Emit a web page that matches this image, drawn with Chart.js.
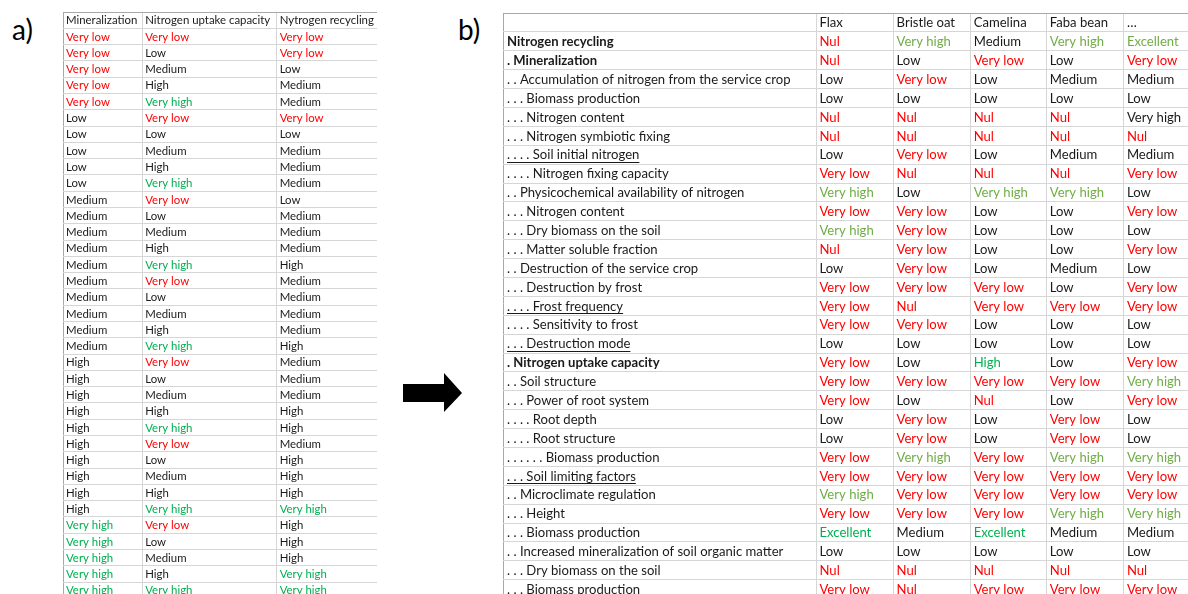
<!DOCTYPE html>
<html>
<head>
<meta charset="utf-8">
<script src="https://cdn.jsdelivr.net/npm/chart.js@4.4.1/dist/chart.umd.min.js"></script>
<style>
  body { margin: 0; background: #fff; width: 1188px; height: 594px; overflow: hidden; position: relative; font-family: Lato, sans-serif; }
  .tag { position: absolute; font-size: 28px; color: #000; line-height: 1; }
  canvas { position: absolute; }
</style>
</head>
<body>
<div class="tag" style="left:12px; top:15px;">a)</div>
<div class="tag" style="left:458px; top:15px;">b)</div>
<svg style="position:absolute; left:400px; top:370px" width="66" height="46">
  <polygon points="3,14 44,14 44,3 62,23 44,42 44,32 3,32" fill="#000"/>
</svg>
<canvas id="tableA" width="314" height="582" style="left:63px; top:12px"></canvas>
<canvas id="tableB" width="685" height="581" style="left:503px; top:13px"></canvas>
<script>
// ---- table a) data ----
const aHeaders = ['Mineralization', 'Nitrogen uptake capacity', 'Nytrogen recycling'];
const aMineralization = [
  'Very low', 'Very low', 'Very low', 'Very low', 'Very low',
  'Low', 'Low', 'Low', 'Low', 'Low',
  'Medium', 'Medium', 'Medium', 'Medium', 'Medium',
  'Medium', 'Medium', 'Medium', 'Medium', 'Medium',
  'High', 'High', 'High', 'High', 'High',
  'High', 'High', 'High', 'High', 'High',
  'Very high', 'Very high', 'Very high', 'Very high', 'Very high'
];
const aUptake = [
  'Very low', 'Low', 'Medium', 'High', 'Very high',
  'Very low', 'Low', 'Medium', 'High', 'Very high',
  'Very low', 'Low', 'Medium', 'High', 'Very high',
  'Very low', 'Low', 'Medium', 'High', 'Very high',
  'Very low', 'Low', 'Medium', 'High', 'Very high',
  'Very low', 'Low', 'Medium', 'High', 'Very high',
  'Very low', 'Low', 'Medium', 'High', 'Very high'
];
const aRecycling = [
  'Very low', 'Very low', 'Low', 'Medium', 'Medium',
  'Very low', 'Low', 'Medium', 'Medium', 'Medium',
  'Low', 'Medium', 'Medium', 'Medium', 'High',
  'Medium', 'Medium', 'Medium', 'Medium', 'High',
  'Medium', 'Medium', 'Medium', 'High', 'High',
  'Medium', 'High', 'High', 'High', 'Very high',
  'High', 'High', 'High', 'Very high', 'Very high'
];

// ---- table b) data ----
const bHeaders = ['', 'Flax', 'Bristle oat', 'Camelina', 'Faba bean', '…'];
const bCriteria = [
  'Nitrogen recycling',
  '. Mineralization',
  '. . Accumulation of nitrogen from the service crop',
  '. . . Biomass production',
  '. . . Nitrogen content',
  '. . . Nitrogen symbiotic fixing',
  '. . . . Soil initial nitrogen',
  '. . . . Nitrogen fixing capacity',
  '. . Physicochemical availability of nitrogen',
  '. . . Nitrogen content',
  '. . . Dry biomass on the soil',
  '. . . Matter soluble fraction',
  '. . Destruction of the service crop',
  '. . . Destruction by frost',
  '. . . . Frost frequency',
  '. . . . Sensitivity to frost',
  '. . . Destruction mode',
  '. Nitrogen uptake capacity',
  '. . Soil structure',
  '. . . Power of root system',
  '. . . . Root depth',
  '. . . . Root structure',
  '. . . . . . Biomass production',
  '. . . Soil limiting factors',
  '. . Microclimate regulation',
  '. . . Height',
  '. . . Biomass production',
  '. . Increased mineralization of soil organic matter',
  '. . . Dry biomass on the soil',
  '. . . Biomass production'
];
const bBoldRows = [0, 1, 17];
const bUnderlinedRows = [6, 14, 16, 23];
const bFlax = [
  'Nul', 'Nul', 'Low', 'Low', 'Nul', 'Nul', 'Low', 'Very low', 'Very high', 'Very low',
  'Very high', 'Nul', 'Low', 'Very low', 'Very low', 'Very low', 'Low', 'Very low', 'Very low', 'Very low',
  'Low', 'Low', 'Very low', 'Very low', 'Very high', 'Very low', 'Excellent', 'Low', 'Nul', 'Very low'
];
const bBristleOat = [
  'Very high', 'Low', 'Very low', 'Low', 'Nul', 'Nul', 'Very low', 'Nul', 'Low', 'Very low',
  'Very low', 'Very low', 'Very low', 'Very low', 'Nul', 'Very low', 'Low', 'Low', 'Very low', 'Low',
  'Very low', 'Very low', 'Very high', 'Very low', 'Very low', 'Very low', 'Medium', 'Low', 'Nul', 'Nul'
];
const bCamelina = [
  'Medium', 'Very low', 'Low', 'Low', 'Nul', 'Nul', 'Low', 'Nul', 'Very high', 'Low',
  'Low', 'Low', 'Low', 'Very low', 'Very low', 'Low', 'Low', 'High', 'Very low', 'Nul',
  'Low', 'Low', 'Very low', 'Very low', 'Very low', 'Very low', 'Excellent', 'Low', 'Nul', 'Very low'
];
const bFabaBean = [
  'Very high', 'Low', 'Medium', 'Low', 'Nul', 'Nul', 'Medium', 'Nul', 'Very high', 'Low',
  'Low', 'Low', 'Medium', 'Low', 'Very low', 'Low', 'Low', 'Low', 'Very low', 'Low',
  'Very low', 'Very low', 'Very high', 'Very low', 'Very low', 'Very high', 'Medium', 'Low', 'Nul', 'Very low'
];
const bOther = [
  'Excellent', 'Very low', 'Medium', 'Low', 'Very high', 'Nul', 'Medium', 'Very low', 'Low', 'Very low',
  'Low', 'Very low', 'Low', 'Very low', 'Very low', 'Low', 'Low', 'Very low', 'Very high', 'Very low',
  'Low', 'Low', 'Very high', 'Very low', 'Very low', 'Very high', 'Medium', 'Low', 'Nul', 'Very low'
];
// cells whose colour in the source differs from the usual rule: [row, column]
const bPlainCells = [[4, 4]];
const bStrongCells = [[26, 0], [26, 2]];

// ---- look ----
const INK = '#1a1a1a';
const RED = '#ff0000';
const GREEN = '#00b050';
const OLIVE = '#70ad47';
const GRID = '#d6d6d6';
const EDGE = '#a8a8a8';
const PAD = 3;

const colourA = (v) => v === 'Very low' ? RED : v === 'Very high' ? GREEN : INK;

const inList = (list, r, c) => list.some(p => p[0] === r && p[1] === c);
const colourB = (v, r, c) => {
  if (inList(bPlainCells, r, c)) return INK;
  if (inList(bStrongCells, r, c)) return GREEN;
  if (v === 'Nul' || v === 'Very low') return RED;
  if (v === 'Very high' || v === 'Excellent') return OLIVE;
  if (v === 'High') return GREEN;
  return INK;
};

const cellText = {
  id: 'cellText',
  afterDatasetsDraw(chart, args, opts) {
    const ctx = chart.ctx;
    const area = chart.chartArea;
    ctx.save();
    ctx.beginPath();
    ctx.rect(area.left, area.top, area.right - area.left, area.bottom - area.top);
    ctx.clip();
    ctx.textBaseline = 'middle';
    ctx.textAlign = 'left';
    chart.data.datasets.forEach((ds, di) => {
      const meta = chart.getDatasetMeta(di);
      meta.data.forEach((pt, i) => {
        const cell = ds.data[i];
        if (!cell.text) return;
        ctx.font = (cell.bold ? 'bold ' : '') + opts.size + 'px ' + opts.family;
        ctx.fillStyle = cell.color;
        const y = pt.y + opts.dy;
        ctx.fillText(cell.text, pt.x, y);
        if (cell.underline) {
          const w = ctx.measureText(cell.text).width;
          ctx.fillRect(pt.x, Math.round(y + opts.size * 0.5), w, 1);
        }
      });
    });
    ctx.restore();
  }
};

function columnDataset(header, values, left, colourOf, col, bold, underline) {
  const data = [{ x: left + PAD, y: 0.5, text: header, color: INK }];
  values.forEach((v, i) => data.push({
    x: left + PAD, y: i + 1.5, text: v,
    color: colourOf(v, i, col),
    bold: bold ? bold.includes(i) : false,
    underline: underline ? underline.includes(i) : false
  }));
  return { data, pointRadius: 0, pointHoverRadius: 0, showLine: false };
}

function drawTable(id, datasets, edges, rowH, font) {
  const canvas = document.getElementById(id);
  const maxY = canvas.height / rowH;
  const lines = [];
  for (let k = 0; k <= Math.floor(maxY); k++) lines.push({ value: k });
  new Chart(canvas, {
    type: 'scatter',
    data: { datasets },
    options: {
      responsive: false,
      animation: false,
      events: [],
      layout: { padding: 0, autoPadding: false },
      plugins: { legend: { display: false }, tooltip: { enabled: false }, cellText: font },
      scales: {
        x: {
          type: 'linear', min: 0, max: canvas.width - 1,
          afterBuildTicks: (s) => { s.ticks = edges.filter(e => e <= s.max).map(value => ({ value })); },
          ticks: { display: false },
          grid: { drawTicks: false, color: (c) => c.tick && c.tick.value === 0 ? EDGE : GRID },
          border: { display: false }
        },
        y: {
          type: 'linear', reverse: true, min: 0, max: maxY,
          afterBuildTicks: (s) => { s.ticks = lines; },
          ticks: { display: false },
          grid: { drawTicks: false, color: (c) => c.tick && c.tick.value === 0 ? EDGE : GRID },
          border: { display: false }
        }
      }
    },
    plugins: [cellText]
  });
}

// table a)
const aEdges = [0, 79, 213, 313];
drawTable('tableA', [
  columnDataset(aHeaders[0], aMineralization, aEdges[0], colourA),
  columnDataset(aHeaders[1], aUptake, aEdges[1], colourA),
  columnDataset(aHeaders[2], aRecycling, aEdges[2], colourA)
], aEdges, 16.29, { size: 11.4, family: 'Lato, sans-serif', dy: 0.5 });

// table b)
const bEdges = [0, 313, 390, 467, 543, 620, 697];
drawTable('tableB', [
  columnDataset(bHeaders[0], bCriteria, bEdges[0] + 1, () => INK, -1, bBoldRows, bUnderlinedRows),
  columnDataset(bHeaders[1], bFlax, bEdges[1], colourB, 0),
  columnDataset(bHeaders[2], bBristleOat, bEdges[2], colourB, 1),
  columnDataset(bHeaders[3], bCamelina, bEdges[3], colourB, 2),
  columnDataset(bHeaders[4], bFabaBean, bEdges[4], colourB, 3),
  columnDataset(bHeaders[5], bOther, bEdges[5], colourB, 4)
], bEdges, 18.89, { size: 13.1, family: 'Lato, sans-serif', dy: 0.5 });
</script>
</body>
</html>
